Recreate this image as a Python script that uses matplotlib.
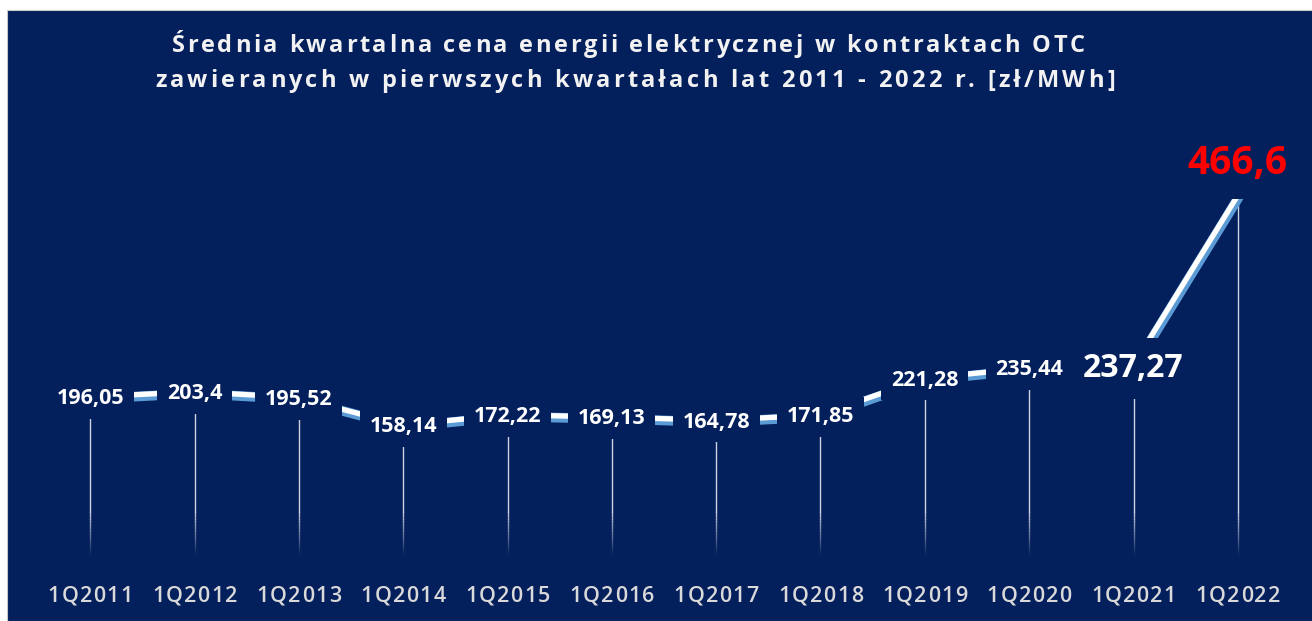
import matplotlib
matplotlib.use("Agg")
import matplotlib.pyplot as plt
import matplotlib.transforms as mtransforms
from matplotlib.patches import Rectangle
from matplotlib.font_manager import FontProperties
import numpy as np

categories = ["1Q2011", "1Q2012", "1Q2013", "1Q2014", "1Q2015", "1Q2016",
              "1Q2017", "1Q2018", "1Q2019", "1Q2020", "1Q2021", "1Q2022"]
values = [196.05, 203.4, 195.52, 158.14, 172.22, 169.13,
          164.78, 171.85, 221.28, 235.44, 237.27, 466.6]
labels = ["196,05", "203,4", "195,52", "158,14", "172,22", "169,13",
          "164,78", "171,85", "221,28", "235,44", "237,27", "466,6"]
title_lines = ["Średnia kwartalna cena energii elektrycznej w kontraktach OTC",
               "zawieranych w pierwszych kwartałach lat 2011 - 2022 r. [zł/MWh]"]

NAVY = "#031f5c"
W, H = 1312, 621
fig = plt.figure(figsize=(W / 100, H / 100), dpi=100, facecolor="white")
fig.patches.append(Rectangle((7 / W, 0), 1, (H - 10) / H, transform=fig.transFigure,
                             facecolor=NAVY, edgecolor="#c8c8c8", lw=0.8, zorder=-5))

# plot area: zero at ~544 px from top, 0.74 px per unit
left_px, right_px = 38, 1290
zero_px, px_per_unit = 544.0, 0.74
bottom_px = 555.0
ymax = max(values)
top_px = zero_px - ymax * px_per_unit
ymin = -(bottom_px - zero_px) / px_per_unit
ax = fig.add_axes([left_px / W, (H - bottom_px) / H,
                   (right_px - left_px) / W, (bottom_px - top_px) / H])
ax.set_zorder(2)
ax.set_facecolor("none")
x = np.arange(len(categories))
ax.set_xlim(-0.5, len(categories) - 0.5)
ax.set_ylim(ymin, ymax)
for s in ax.spines.values():
    s.set_visible(False)
ax.set_xticks([])
ax.set_yticks([])

# drop lines with fading bottom
fade_top = 40
for xi, v in zip(x, values):
    ax.plot([xi, xi], [fade_top, v], color="white", lw=1.0, alpha=0.8, zorder=2,
            solid_capstyle="butt")
    n = 14
    edges = np.linspace(ymin, fade_top, n + 1)
    for k in range(n):
        ax.plot([xi, xi], [edges[k], edges[k + 1]], color="white", lw=1.0,
                alpha=0.8 * (k + 1) / (n + 1), zorder=2, solid_capstyle="butt")

# main line: blue body with white highlight on top (clipped at the plot top)
ax.plot(x, values, color="#5b9bd5", lw=7, zorder=3, solid_joinstyle="miter",
        solid_capstyle="projecting")
off = mtransforms.offset_copy(ax.transData, fig=fig, x=-1.0, y=1.8, units="dots")
ax.plot(x, values, color="white", lw=3.8, zorder=4, transform=off,
        solid_joinstyle="miter", solid_capstyle="projecting")

# data labels
bb = dict(boxstyle="square,pad=0.45", facecolor=NAVY, edgecolor="none")
for i, (xi, v, lab) in enumerate(zip(x, values, labels)):
    if i == len(values) - 1:
        ax.annotate(lab, (xi, v), xytext=(0, 25), textcoords="offset points",
                    ha="center", va="center", color="#ff0000", fontsize=28,
                    fontweight="bold", family="Open Sans", zorder=6,
                    annotation_clip=False)
    elif i == len(values) - 2:
        ax.text(xi, v, lab, ha="center", va="center", color="white", fontsize=23,
                fontweight="bold", family="Open Sans", zorder=6, bbox=bb)
    else:
        ax.text(xi, v, lab, ha="center", va="center", color="white", fontsize=15.5,
                fontweight="bold", family="Open Sans", zorder=6, bbox=bb)

renderer = fig.canvas.get_renderer()


def spaced_text(s, cx_px, cy_px, prop, color, extra=None, total=None):
    widths = [renderer.get_text_width_height_descent(ch, prop, ismath=False)[0]
              for ch in s]
    if total is not None:
        extra = (total - sum(widths)) / (len(s) - 1)
    tw = sum(widths) + extra * (len(s) - 1)
    xpos = cx_px - tw / 2
    for ch, wch in zip(s, widths):
        fig.text(xpos / W, 1 - cy_px / H, ch, ha="left", va="center", color=color,
                 fontproperties=prop)
        xpos += wch + extra


# category labels (slightly letter-spaced)
xprop = FontProperties(family="Open Sans", weight="semibold", size=15.5)
for xi, c in zip(x, categories):
    cx = ax.transData.transform((xi, 0))[0]
    spaced_text(c, cx, 596, xprop, "#d9d9d9", total=85)

# title with letter spacing
tprop = FontProperties(family="Open Sans", weight="bold", size=17)
targets = [(628, 46, 913), (635, 81, 960)]
for line, (cx, cy, tw) in zip(title_lines, targets):
    spaced_text(line, cx, cy, tprop, "#f2f2f2", total=tw)

fig.savefig("out.png", dpi=100, facecolor=fig.get_facecolor())
